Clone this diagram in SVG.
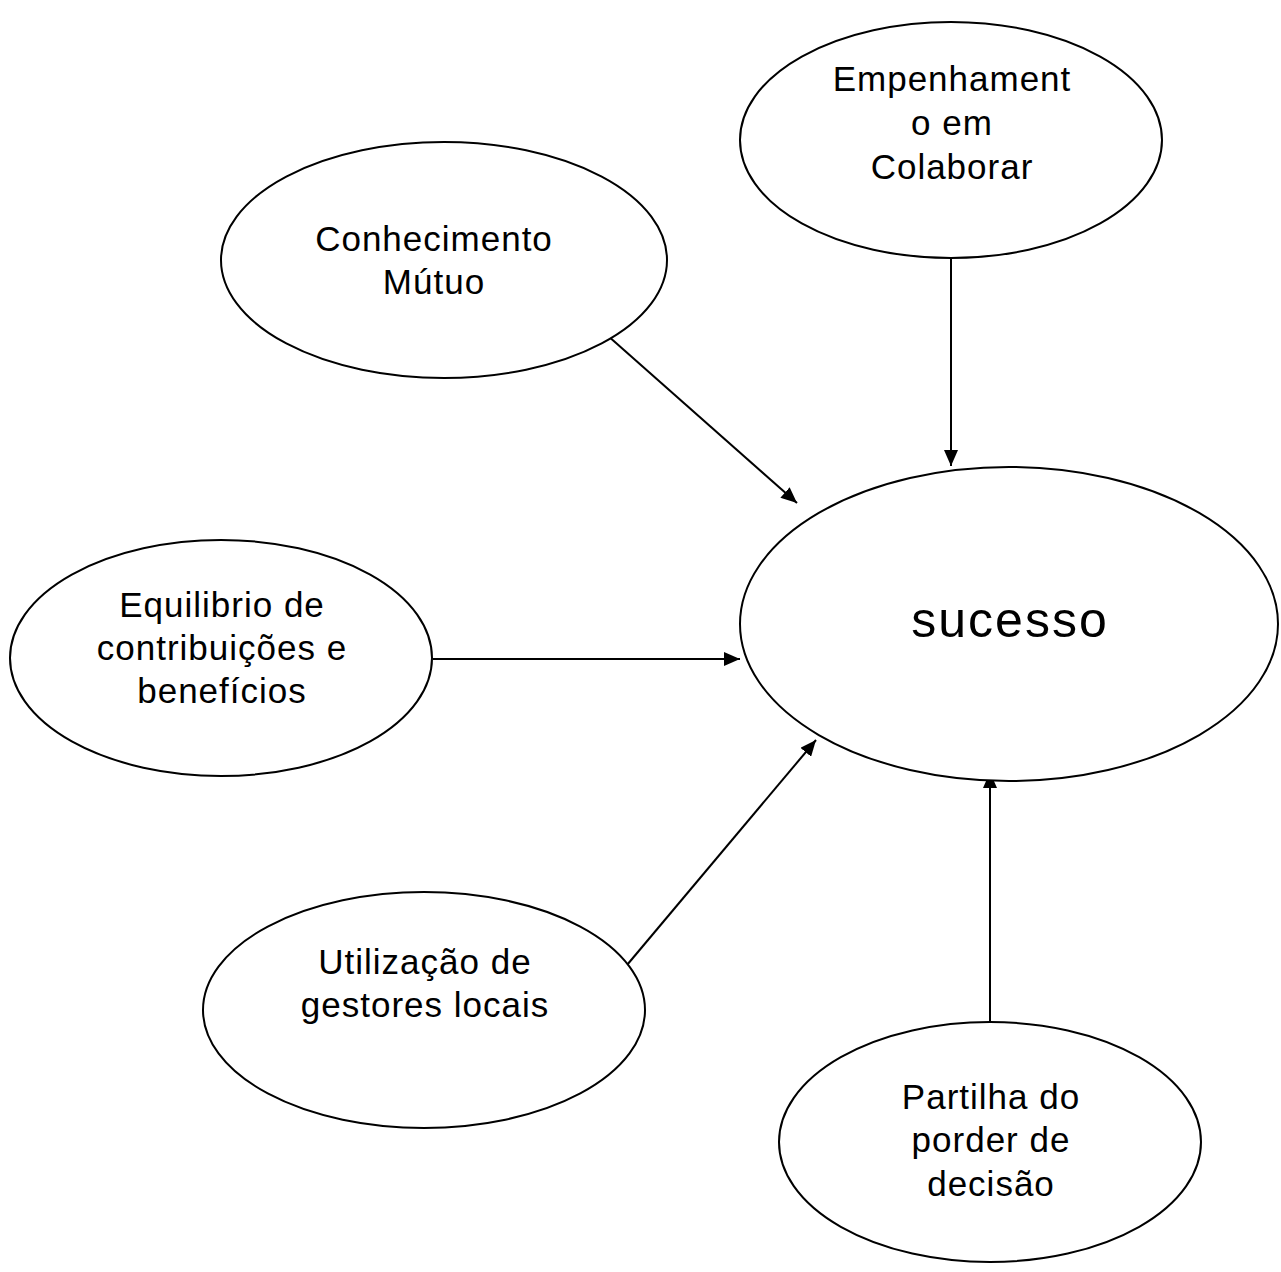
<svg xmlns="http://www.w3.org/2000/svg" width="1281" height="1272" viewBox="0 0 1281 1272">
<style>
.node ellipse{fill:#fff;stroke:#000;stroke-width:2}
.node text{font-family:"Liberation Sans",Arial,sans-serif;font-size:35px;letter-spacing:1px;fill:#000;text-anchor:middle}
.conn line{stroke:#000;stroke-width:2;marker-end:url(#ah)}
</style>
<defs>
<marker id="ah" viewBox="0 0 16 14" refX="16" refY="7" markerWidth="16" markerHeight="14" markerUnits="userSpaceOnUse" orient="auto">
<path d="M0,0 L16,7 L0,14 Z" fill="#000"/>
</marker>
</defs>
<rect width="1281" height="1272" fill="#fff"/>
<g class="conn">
<line x1="951" y1="258" x2="951" y2="466"/>
<line x1="607" y1="335" x2="797" y2="503"/>
<line x1="433" y1="659" x2="740" y2="659"/>
<line x1="627" y1="965" x2="816" y2="740"/>
<line x1="990" y1="1023" x2="990" y2="772"/>
</g>
<g id="empenhamento" class="node">
<ellipse cx="951" cy="140" rx="211" ry="118"/>
<text x="952" y="91">Empenhament</text>
<text x="952" y="135">o em</text>
<text x="952" y="179">Colaborar</text>
</g>
<g id="conhecimento" class="node">
<ellipse cx="444" cy="260" rx="223" ry="118"/>
<text x="434" y="251">Conhecimento</text>
<text x="434" y="294">Mútuo</text>
</g>
<g id="sucesso" class="node">
<ellipse cx="1009" cy="624" rx="269" ry="157"/>
<text x="1010" y="637" style="font-size:50px;letter-spacing:2px">sucesso</text>
</g>
<g id="equilibrio" class="node">
<ellipse cx="221" cy="658" rx="211" ry="118"/>
<text x="222" y="617">Equilibrio de</text>
<text x="222" y="660">contribuições e</text>
<text x="222" y="703">benefícios</text>
</g>
<g id="utilizacao" class="node">
<ellipse cx="424" cy="1010" rx="221" ry="118"/>
<text x="425" y="974">Utilização de</text>
<text x="425" y="1017">gestores locais</text>
</g>
<g id="partilha" class="node">
<ellipse cx="990" cy="1142" rx="211" ry="120"/>
<text x="991" y="1109">Partilha do</text>
<text x="991" y="1152">porder de</text>
<text x="991" y="1196">decisão</text>
</g>
</svg>
